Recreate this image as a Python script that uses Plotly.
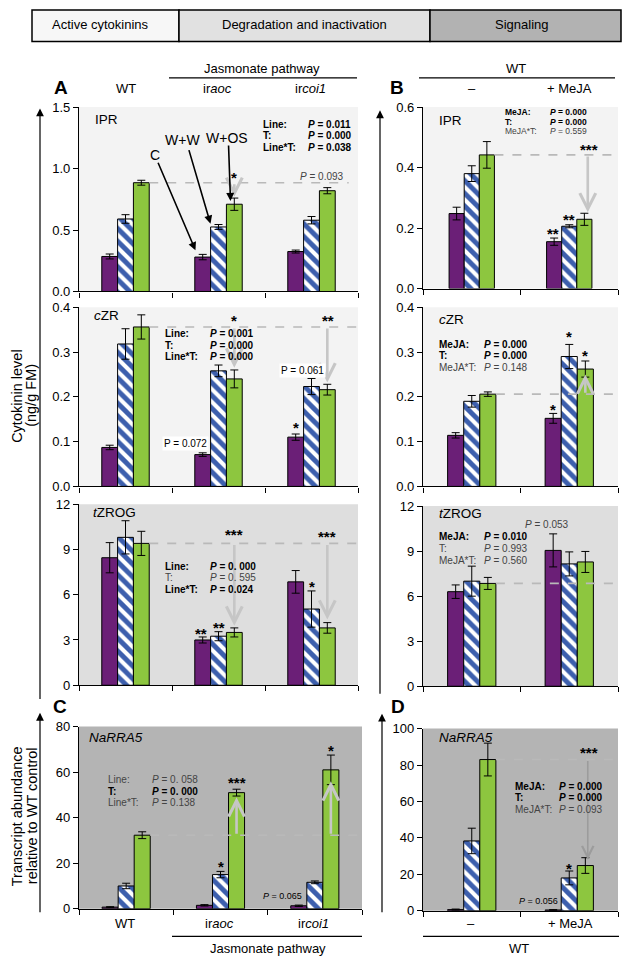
import plotly.graph_objects as go

# ---------------- data ----------------
lines_A = ["WT", "ir<i>aoc</i>", "ir<i>coi1</i>"]
lines_B = ["–", "+ MeJA"]
treatments = ["C", "W+W", "W+OS"]

# rows: C, W+W, W+OS ; columns: lines
ipr_a_mean = [[0.285, 0.28, 0.325], [0.59, 0.525, 0.58], [0.885, 0.71, 0.82]]
ipr_a_err = [[0.02, 0.022, 0.012], [0.035, 0.02, 0.03], [0.02, 0.05, 0.025]]
ipr_b_mean = [[0.248, 0.155], [0.38, 0.206], [0.442, 0.229]]
ipr_b_err = [[0.021, 0.012], [0.026, 0.005], [0.044, 0.02]]
czr_a_mean = [[0.087, 0.071, 0.11], [0.318, 0.258, 0.223], [0.356, 0.24, 0.216]]
czr_a_err = [[0.005, 0.004, 0.007], [0.034, 0.013, 0.018], [0.027, 0.02, 0.012]]
czr_b_mean = [[0.114, 0.152], [0.19, 0.29], [0.206, 0.262]]
czr_b_err = [[0.006, 0.011], [0.013, 0.027], [0.005, 0.018]]
tzrog_a_mean = [[8.45, 3.0, 6.85], [9.8, 3.25, 5.05], [9.4, 3.5, 3.8]]
tzrog_a_err = [[1.0, 0.2, 0.75], [1.1, 0.3, 1.2], [0.8, 0.3, 0.35]]
tzrog_b_mean = [[6.3, 9.05], [7.0, 8.15], [6.85, 8.28]]
tzrog_b_err = [[0.45, 1.1], [1.0, 0.8], [0.4, 0.7]]
rra5_c_mean = [[0.7, 1.5, 1.3], [10.0, 15.0, 11.6], [32.3, 51.0, 61.0]]
rra5_c_err = [[0.2, 0.3, 0.3], [1.2, 1.4, 0.6], [1.5, 1.5, 6.5]]
rra5_d_mean = [[0.6, 0.4], [38.3, 18.0], [83.0, 24.8]]
rra5_d_err = [[0.3, 0.2], [7.0, 3.8], [9.0, 4.3]]

# ---------------- helpers ----------------
FW, FH = 623, 963
def fx(x): return x / FW
def fy(y): return 1 - y / FH

FONT = "Arial, Liberation Sans, Helvetica, sans-serif"
PURPLE = "#6b1f77"
BLUE = "#3d5fad"
GREEN = "#8dc63f"
LIGHT = "#f3f3f3"
MID = "#dedede"
DARK = "#b4b4b4"
GRAYTXT = "#444444"

panels = [
    dict(mean=ipr_a_mean, err=ipr_a_err, xd=(79, 358), yd=(289, 101.7), top=1.5,
         ticks=[0, 0.5, 1.0, 1.5], fmt=".1f", bg=LIGHT, w=0.17),
    dict(mean=ipr_b_mean, err=ipr_b_err, xd=(423, 618), yd=(286, 101.7), top=0.6,
         ticks=[0, 0.2, 0.4, 0.6], fmt=".1f", bg=LIGHT, w=0.155),
    dict(mean=czr_a_mean, err=czr_a_err, xd=(79, 358), yd=(487, 305), top=0.4,
         ticks=[0, 0.1, 0.2, 0.3, 0.4], fmt=".1f", bg=LIGHT, w=0.17),
    dict(mean=czr_b_mean, err=czr_b_err, xd=(423, 618), yd=(487, 305), top=0.4,
         ticks=[0, 0.1, 0.2, 0.3, 0.4], fmt=".1f", bg=LIGHT, w=0.165),
    dict(mean=tzrog_a_mean, err=tzrog_a_err, xd=(79, 358), yd=(689, 505), top=12,
         ticks=[0, 3, 6, 9, 12], fmt="d", bg=MID, w=0.17),
    dict(mean=tzrog_b_mean, err=tzrog_b_err, xd=(423, 618), yd=(690, 507), top=12,
         ticks=[0, 3, 6, 9, 12], fmt="d", bg=MID, w=0.165),
    dict(mean=rra5_c_mean, err=rra5_c_err, xd=(79, 362), yd=(916, 731), top=80,
         ticks=[0, 20, 40, 60, 80], fmt="d", bg=DARK, w=0.17),
    dict(mean=rra5_d_mean, err=rra5_d_err, xd=(423, 618), yd=(918, 733), top=100,
         ticks=[0, 20, 40, 60, 80, 100], fmt="d", bg=DARK, w=0.165),
]

def ax_id(n, kind):
    return kind if n == 1 else f"{kind}{n}"

fig = go.Figure()
layout = dict(width=FW, height=FH, margin=dict(l=0, r=0, t=0, b=0),
              paper_bgcolor="white", plot_bgcolor="rgba(0,0,0,0)",
              showlegend=False, barmode="overlay",
              font=dict(family=FONT, color="black"))
shapes = []
annotations = []

for i, p in enumerate(panels):
    n = i + 1
    k = len(p["mean"][0])
    w = p["w"]
    xs = list(range(k))
    styles = [
        dict(color=PURPLE, line=dict(color="black", width=1)),
        dict(color=BLUE, line=dict(color="black", width=1),
             pattern=dict(shape="\\", fgcolor="white", bgcolor=BLUE, size=9,
                          solidity=0.45, fillmode="replace")),
        dict(color=GREEN, line=dict(color="black", width=1)),
    ]
    for t in range(3):
        fig.add_trace(go.Bar(
            x=xs, y=p["mean"][t], width=w, offset=(t - 1.5) * w,
            marker=styles[t], name=treatments[t],
            error_y=dict(type="data", array=p["err"][t], color="black",
                         thickness=1, width=4),
            xaxis=ax_id(n, "x"), yaxis=ax_id(n, "y"), hoverinfo="skip"))
    xa = "xaxis" if n == 1 else f"xaxis{n}"
    ya = "yaxis" if n == 1 else f"yaxis{n}"
    layout[xa] = dict(domain=[fx(p["xd"][0]), fx(p["xd"][1])], range=[-0.5, k - 0.5],
                      tickvals=[j - 0.5 for j in range(k + 1)], showticklabels=False,
                      ticks="outside", ticklen=5, tickcolor="black", tickwidth=1.2,
                      showline=True, linecolor="black", linewidth=1.2,
                      showgrid=False, zeroline=False, anchor=ax_id(n, "y"),
                      fixedrange=True)
    layout[ya] = dict(domain=[fy(p["yd"][0]), fy(p["yd"][1])], range=[0, p["top"]],
                      tickvals=p["ticks"], tickformat=p["fmt"],
                      ticks="outside", ticklen=5, tickcolor="black", tickwidth=1.2,
                      tickfont=dict(size=13, family=FONT, color="black"),
                      showline=True, linecolor="black", linewidth=1.2,
                      showgrid=False, zeroline=False, anchor=ax_id(n, "x"),
                      fixedrange=True)
    shapes.append(dict(type="rect", xref=ax_id(n, "x") + " domain",
                       yref=ax_id(n, "y") + " domain", x0=0, x1=1, y0=0, y1=1,
                       fillcolor=p["bg"], line=dict(width=0), layer="below"))
    # dashed reference line at control-line W+OS level
    p["ref"] = p["mean"][2][0]

# dashed reference lines: (panel, x_end)
dash_ends = {1: 2.4, 2: 1.49, 3: 2.5, 4: 1.49, 5: 2.5, 6: 1.49, 7: 2.45, 8: 1.49}
for n, xe in dash_ends.items():
    p = panels[n - 1]
    shapes.append(dict(type="line", xref=ax_id(n, "x"), yref=ax_id(n, "y"),
                       x0=1.5 * p["w"], x1=xe, y0=p["ref"], y1=p["ref"],
                       line=dict(color="#b9b9b9", width=1.6, dash="dash"),
                       layer="above"))

# gray arrows (panel, x, to_y)
gray_arrows = [(1, 1.17, 0.77), (2, 1.19, 0.252), (3, 1.17, 0.265), (3, 2.17, 0.232),
               (4, 1.165, 0.25), (5, 1.17, 3.95), (5, 2.17, 4.35),
               (7, 1.17, 49), (7, 2.17, 56)]
for n, x, ty in gray_arrows:
    xr, yr = ax_id(n, "x"), ax_id(n, "y")
    annotations.append(dict(xref=xr, yref=yr, x=x, y=ty, ax=x, ay=panels[n - 1]["ref"],
                            axref=xr, ayref=yr, text="", showarrow=True,
                            arrowhead=5, arrowsize=1.2, arrowwidth=2.6,
                            arrowcolor="#c6c6c6", standoff=0))
annotations.append(dict(xref="x8", yref="y8", x=1.19, y=28, ax=1.19, ay=panels[7]["ref"],
                        axref="x8", ayref="y8", text="", showarrow=True,
                        arrowhead=5, arrowsize=1.4, arrowwidth=1.6,
                        arrowcolor="#9c9c9c", standoff=0))

# significance stars (panel, x, y, text)
stars = [(1, 1.17, 0.94, "*"),
         (2, 0.835, 0.19, "**"), (2, 1.0, 0.236, "**"), (2, 1.2, 0.466, "***"),
         (3, 1.17, 0.374, "*"), (3, 2.18, 0.374, "**"), (3, 1.83, 0.136, "*"),
         (4, 0.835, 0.176, "*"), (4, 1.0, 0.339, "*"), (4, 1.165, 0.297, "*"),
         (5, 1.17, 10.15, "***"), (5, 2.17, 10.0, "***"), (5, 0.81, 3.57, "**"),
         (5, 1.0, 3.96, "**"), (5, 2.01, 6.67, "*"),
         (7, 1.17, 56.5, "***"), (7, 1.0, 19.6, "*"), (7, 2.17, 70.4, "*"),
         (8, 1.0, 24.3, "*"), (8, 1.2, 88, "***")]
for n, x, y, s in stars:
    annotations.append(dict(xref=ax_id(n, "x"), yref=ax_id(n, "y"), x=x, y=y,
                            text=f"<b>{s}</b>", showarrow=False, yanchor="middle",
                            yshift=-2, font=dict(size=15, family=FONT, color="black")))

def ptext(x, y, text, size=10, color="black", anchor="left", bg=None, **kw):
    d = dict(xref="paper", yref="paper", x=fx(x), y=fy(y), text=text, showarrow=False,
             xanchor=anchor, yanchor="middle",
             font=dict(size=size, family=FONT, color=color))
    if bg:
        d["bgcolor"] = bg
    d.update(kw)
    annotations.append(d)

# statistics blocks
stats = [
    (261, 306, 119, 11.7, 10, [("Line:", "0.011", True), ("T:", "0.000", True), ("Line*T:", "0.038", True)]),
    (503, 548, 107, 9.6, 8.5, [("MeJA:", "0.000", True), ("T:", "0.000", True), ("MeJA*T:", "0.559", False)]),
    (163, 208, 332, 11.7, 10, [("Line:", "0.001", True), ("T:", "0.000", True), ("Line*T:", "0.000", True)]),
    (437, 482, 343, 11.5, 10, [("MeJA:", "0.000", True), ("T:", "0.000", True), ("MeJA*T:", "0.148", False)]),
    (163, 208, 568, 11.7, 10, [("Line:", "0. 000", True), ("T:", "0. 595", False), ("Line*T:", "0.024", True)]),
    (437, 482, 538, 12, 10, [("MeJA:", "0.010", True), ("T:", "0.993", False), ("MeJA*T:", "0.560", False)]),
    (106, 150, 785, 11.7, 10, [("Line:", "0. 058", False), ("T:", "0. 000", True), ("Line*T:", "0.138", False)]),
    (513, 557, 792, 11.5, 10, [("MeJA:", "0.000", True), ("T:", "0.000", True), ("MeJA*T:", "0.093", False)]),
]
for lx, pxx, y0, dy, sz, rows in stats:
    for j, (lab, val, bold) in enumerate(rows):
        y = y0 + j * dy
        if bold:
            ptext(lx, y, f"<b>{lab}</b>", sz)
            ptext(pxx, y, f"<b><i>P</i> = {val}</b>", sz)
        else:
            ptext(lx, y, lab, sz, GRAYTXT)
            ptext(pxx, y, f"<i>P</i> = {val}", sz, GRAYTXT)

# isolated P values
ptext(322, 172, "<i>P</i> = 0.093", 10, GRAYTXT, "center")
ptext(185, 443, "P = 0.072", 10, "black", "center", bg="white")
ptext(302, 369, "P = 0.061", 10, "black", "center", bg="white")
ptext(547, 526, "<i>P</i> = 0.053", 10, GRAYTXT, "center")
ptext(282, 903, "<i>P</i> = 0.065", 9, "black", "center")
ptext(538, 908, "<i>P</i> = 0.056", 9, "black", "center")

# panel compound labels
for x, y, t in [(93, 114, "IPR"), (437, 115, "IPR"), (92, 313, "<i>c</i>ZR"),
                (437, 317, "<i>c</i>ZR"), (91, 513, "<i>t</i>ZROG"), (437, 515, "<i>t</i>ZROG"),
                (87, 742, "<i>NaRRA5</i>"), (437, 742, "<i>NaRRA5</i>")]:
    ptext(x, y, t, 13.5)

# panel letters
for x, y, t in [(61, 82, "A"), (397, 82, "B"), (60, 711, "C"), (398, 711, "D")]:
    ptext(x, y, f"<b>{t}</b>", 19, "black", "center")

# treatment labels with black arrows (panel A IPR)
ptext(155, 150, "C", 14, "black", "center")
ptext(182, 135, "W+W", 14, "black", "center")
ptext(227, 133, "W+OS", 14, "black", "center")
for tx, ty, ax_, ay_ in [(0.752, 0.336, -38, -89), (0.914, 0.552, -22, -75), (1.129, 0.737, -2, -57)]:
    annotations.append(dict(xref="x", yref="y", x=tx, y=ty, ax=ax_, ay=ay_, text="",
                            showarrow=True, arrowhead=2, arrowsize=1, arrowwidth=1.6,
                            arrowcolor="black", standoff=0))

# group labels top
ptext(262, 62, "Jasmonate pathway", 13, "black", "center")
ptext(126, 83, lines_A[0], 13, "black", "center")
ptext(217, 83, lines_A[1], 13, "black", "center")
ptext(310, 83, lines_A[2], 13, "black", "center")
ptext(516, 62, "WT", 13, "black", "center")
ptext(472, 83, lines_B[0], 13, "black", "center")
ptext(569, 83, lines_B[1], 13, "black", "center")
# group labels bottom
ptext(125, 931, lines_A[0], 13, "black", "center")
ptext(219, 931, lines_A[1], 13, "black", "center")
ptext(313, 931, lines_A[2], 13, "black", "center")
ptext(268, 956, "Jasmonate pathway", 13, "black", "center")
ptext(471, 931, lines_B[0], 13, "black", "center")
ptext(570, 931, lines_B[1], 13, "black", "center")
ptext(519, 956, "WT", 13, "black", "center")

for x0, x1, y in [(169, 357, 72), (419, 615, 72), (172, 362, 944), (423, 619, 944)]:
    shapes.append(dict(type="line", xref="paper", yref="paper", x0=fx(x0), x1=fx(x1),
                       y0=fy(y), y1=fy(y), line=dict(color="black", width=1.2)))

# header boxes
for x0, x1, col, txt, tx in [(32, 179, "#f7f7f7", "Active cytokinins", 100),
                             (179, 430, "#e1e1e1", "Degradation and inactivation", 304),
                             (430, 621, "#b2b2b2", "Signaling", 522)]:
    shapes.append(dict(type="rect", xref="paper", yref="paper", x0=fx(x0), x1=fx(x1),
                       y0=fy(35), y1=fy(3), fillcolor=col, line=dict(color="black", width=1.5)))
    ptext(tx, 18, txt, 13, "black", "center")

# y-axis titles
for x, y, t in [(17, 395, "Cytokinin level"), (31, 395, "(ng/g FM)"),
                (17, 822, "Transcript abundance"), (32, 822, "relative to WT control")]:
    ptext(x, y, t, 14.5, "black", "center", textangle=-90)

# long axis arrows at the left of panels
for x, tip, tail in [(40, 103, 695), (40, 717, 918), (380, 105, 690), (382, 718, 918)]:
    annotations.append(dict(xref="paper", yref="paper", x=fx(x), y=fy(tip), ax=0,
                            ay=tail - tip, text="", showarrow=True, arrowhead=2,
                            arrowsize=1.3, arrowwidth=1.2, arrowcolor="black", standoff=0))

layout["shapes"] = shapes
layout["annotations"] = annotations
fig.update_layout(**layout)
fig.write_html("out.html", config={"displayModeBar": False},
               post_script="document.body.style.margin='0px';document.body.style.padding='0px';")
